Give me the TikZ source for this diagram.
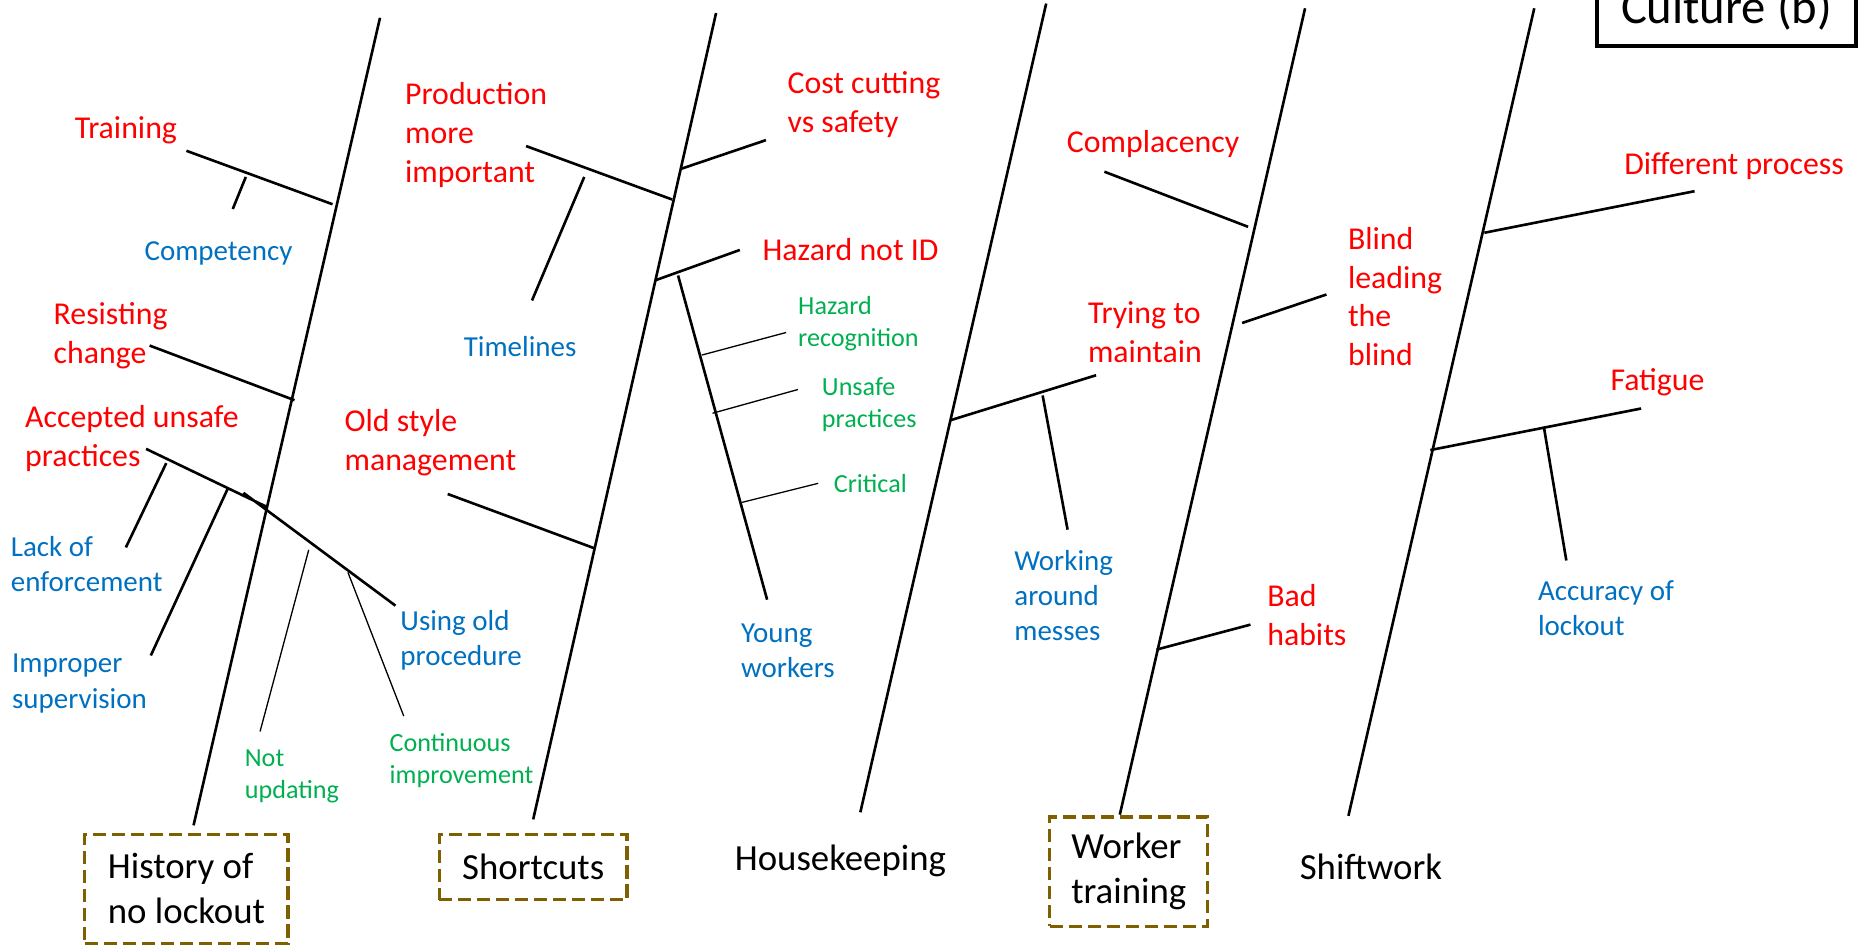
\documentclass[tikz,border=0pt]{standalone}
\usepackage{fontspec}
\setmainfont{Carlito}
\usetikzlibrary{positioning}
\definecolor{causered}{RGB}{255,0,0}
\definecolor{whyblue}{RGB}{0,112,192}
\definecolor{detailgreen}{RGB}{0,176,80}
\definecolor{boxbrown}{RGB}{127,96,0}
\tikzset{
    bone/.style={line width=2.2pt},
    twig/.style={line width=1.1pt},
    cause/.style={text=causered,font=\fontsize{26.8}{32.7}\selectfont,inner sep=0pt,align=left,yshift=-2pt},
    why/.style={text=whyblue,font=\fontsize{24.4}{29.8}\selectfont,inner sep=0pt,align=left,yshift=-2pt},
    detail/.style={text=detailgreen,font=\fontsize{22}{27}\selectfont,inner sep=0pt,align=left,yshift=-2pt},
    category/.style={text=black,font=\fontsize{31}{38}\selectfont,inner sep=0pt,align=left},
    catbox/.style={category,draw=boxbrown,line width=2.6pt,dash pattern=on 11pt off 5pt}
}

\begin{document}
\begin{tikzpicture}[x=1pt,y=-1pt]
    \clip (0,0) rectangle (1568,797);
    % spines
    \coordinate (s1t) at (320,15);    \coordinate (s1b) at (163,695);
    \coordinate (s2t) at (603,11);    \coordinate (s2b) at (449,690);
    \coordinate (s3t) at (881,3);     \coordinate (s3b) at (724.5,684);
    \coordinate (s4t) at (1099,7);    \coordinate (s4b) at (943,686);
    \coordinate (s5t) at (1292,7);    \coordinate (s5b) at (1135.5,687);
    \draw[bone] (s1t) -- (s1b) (s2t) -- (s2b) (s3t) -- (s3b) (s4t) -- (s4b) (s5t) -- (s5b);

    % categories
    \node[catbox,minimum width=171pt,minimum height=92pt] (hist) at (157,748.5) {History of\\no lockout};
    \node[catbox,minimum width=158pt,minimum height=55pt] (short) at (449,730.3) {Shortcuts};
    \node[category] (house) at (707.7,725) {Housekeeping};
    \node[catbox,minimum width=133pt,minimum height=92pt] (wtrain) at (950.5,734) {Worker\\training};
    \node[category] (shift) at (1154.5,730) {Shiftwork};
    \node[category,draw,line width=3pt,font=\fontsize{41}{49}\selectfont,anchor=base,
          minimum width=218pt,text height=60pt,text depth=19pt] (cult) at (1454,19.7) {Culture (b)};

    % history of no lockout
    \node[cause] (train) at (106,108) {Training};
    \node[why] (comp) at (184,211) {Competency};
    \node[cause,anchor=west] (resist) at (45,281) {Resisting\\change};
    \node[cause,anchor=west] (accept) at (21,367) {Accepted unsafe\\practices};
    \node[why,anchor=west] (lack) at (9,473) {Lack of\\enforcement};
    \node[why,anchor=west] (improp) at (10,573.5) {Improper\\supervision};
    \node[why,anchor=west] (oldproc) at (337,537) {Using old\\procedure};
    \node[detail,anchor=west] (notupd) at (206,651.5) {Not\\updating};
    \node[detail,anchor=west] (contimp) at (328,638.5) {Continuous\\improvement};
    \coordinate (tr1) at (157,127);   \coordinate (tr2) at (280,172);
    \coordinate (co1) at (207,149);   \coordinate (co2) at (196,176);
    \coordinate (re1) at (126,291);   \coordinate (re2) at (248,337);
    \coordinate (ac1) at (123,378);   \coordinate (ac2) at (225,427);
    \coordinate (ac3) at (205,415);   \coordinate (op1) at (333,510);
    \coordinate (la1) at (140,390);   \coordinate (la2) at (106,461);
    \coordinate (im1) at (192,411);   \coordinate (im2) at (127,552);
    \coordinate (nu1) at (260,463);   \coordinate (nu2) at (219,616);
    \coordinate (ci1) at (293,482);   \coordinate (ci2) at (340,603);
    \draw[bone] (tr1) -- (tr2) (co1) -- (co2) (re1) -- (re2) (ac1) -- (ac2) (ac3) -- (op1)
        (la1) -- (la2) (im1) -- (im2);
    \draw[twig] (nu1) -- (nu2) (ci1) -- (ci2);

    % shortcuts
    \node[cause,anchor=west] (prod) at (341,111.5) {Production\\more\\important};
    \node[why] (timel) at (438,290) {Timelines};
    \node[cause,anchor=west] (cost) at (663,86) {Cost cutting\\vs safety};
    \node[cause,anchor=west] (hazid) at (642,208) {Hazard not ID};
    \node[detail,anchor=west] (hazrec) at (672,270.5) {Hazard\\recognition};
    \node[detail,anchor=west] (unsafe) at (692,339) {Unsafe\\practices};
    \node[detail,anchor=west] (crit) at (702,405) {Critical};
    \node[why,anchor=west] (young) at (624,546) {Young\\workers};
    \node[cause,anchor=west] (oldmgmt) at (290,371) {Old style\\management};
    \coordinate (pr1) at (443,123);   \coordinate (pr2) at (566,168);
    \coordinate (ti1) at (492,149);   \coordinate (ti2) at (448,253);
    \coordinate (cc1) at (574,142);   \coordinate (cc2) at (645,118);
    \coordinate (hz1) at (552,236);   \coordinate (hz2) at (623,210.5);
    \coordinate (yw1) at (571,232);   \coordinate (yw2) at (646,505);
    \coordinate (hr1) at (591,299);   \coordinate (hr2) at (662,280);
    \coordinate (up1) at (600,348);   \coordinate (up2) at (672,328);
    \coordinate (cr1) at (625,423);   \coordinate (cr2) at (689,407);
    \coordinate (om1) at (377,416);   \coordinate (om2) at (500,461.5);
    \draw[bone] (pr1) -- (pr2) (ti1) -- (ti2) (cc1) -- (cc2) (hz1) -- (hz2) (yw1) -- (yw2)
        (om1) -- (om2);
    \draw[twig] (hr1) -- (hr2) (up1) -- (up2) (cr1) -- (cr2);

    % housekeeping
    \node[cause] (compl) at (971,119) {Complacency};
    \node[cause,anchor=west] (trying) at (916,278) {Trying to\\maintain};
    \node[why,anchor=west] (messes) at (854,499.5) {Working\\around\\messes};
    \coordinate (cm1) at (930,144.6); \coordinate (cm2) at (1051,191);
    \coordinate (tm1) at (800,354);   \coordinate (tm2) at (923,316);
    \coordinate (wa1) at (878,333);   \coordinate (wa2) at (899,446);
    \draw[bone] (cm1) -- (cm2) (tm1) -- (tm2) (wa1) -- (wa2);

    % worker training
    \node[cause,anchor=west] (blind) at (1135,247.7) {Blind\\leading\\the\\blind};
    \node[cause,anchor=west] (badhab) at (1067,516) {Bad\\habits};
    \coordinate (bl1) at (1046,272);  \coordinate (bl2) at (1117,248);
    \coordinate (bh1) at (974,547);   \coordinate (bh2) at (1053,526);
    \draw[bone] (bl1) -- (bl2) (bh1) -- (bh2);

    % shiftwork
    \node[cause,anchor=west] (diffproc) at (1367.6,137.5) {Different process};
    \node[cause,anchor=west] (fatig) at (1356,320) {Fatigue};
    \node[why,anchor=west] (accur) at (1295,510) {Accuracy of\\lockout};
    \coordinate (dp1) at (1250,196);  \coordinate (dp2) at (1427,161);
    \coordinate (fa1) at (1204.5,379); \coordinate (fa2) at (1382,344);
    \coordinate (al1) at (1300,359);  \coordinate (al2) at (1319,472);
    \draw[bone] (dp1) -- (dp2) (fa1) -- (fa2) (al1) -- (al2);
\end{tikzpicture}
\end{document}
